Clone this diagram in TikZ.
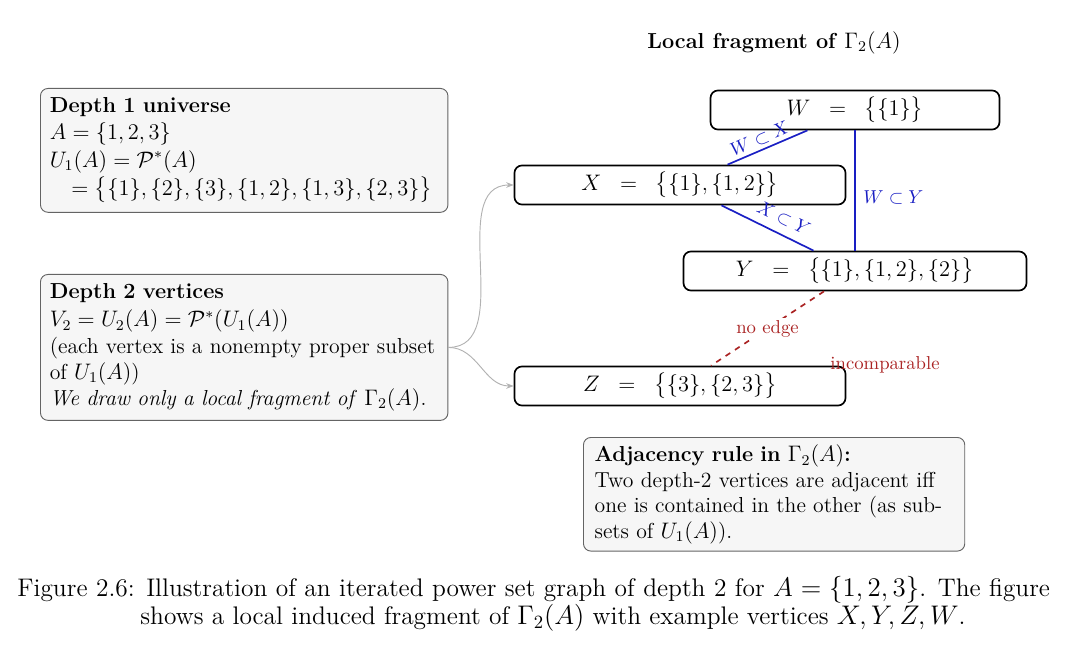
\documentclass[tikz,border=0pt]{standalone}
\usepackage{amsmath,amssymb}
\usetikzlibrary{arrows.meta}
\definecolor{edgeblue}{RGB}{25,30,195}
\definecolor{edgered}{RGB}{170,35,35}
\definecolor{boxfill}{RGB}{246,246,246}
\definecolor{boxline}{RGB}{100,100,100}
\begin{document}
\begin{tikzpicture}[x=0.535pt,y=-0.535pt,
  infobox/.style={draw=boxline, fill=boxfill, rounded corners=4pt, line width=0.5pt,
    inner sep=5pt, align=left, anchor=north west, font=\fontsize{11.6}{14}\selectfont},
  vtx/.style={draw=black, line width=0.9pt, rounded corners=4pt, fill=white,
    minimum height=20.9pt, inner sep=0pt, font=\fontsize{11.6}{13.6}\selectfont},
  incl/.style={draw=edgeblue, line width=0.9pt},
  incllab/.style={text=edgeblue, font=\fontsize{10}{12}\selectfont, inner sep=2pt},
  noedge/.style={draw=edgered, line width=0.9pt, dashed},
  redlab/.style={text=edgered, font=\fontsize{10}{12}\selectfont, inner sep=1pt},
  feed/.style={draw=gray!60, line width=0.5pt, -{Stealth[length=4pt,width=3pt]}},
  captxt/.style={font=\fontsize{13.6}{16}\selectfont, inner sep=0pt}
]
\useasboundingbox (0,0) rectangle (1080,666);

% title
\node[font=\fontsize{11.6}{13}\selectfont] (title) at (774,43) {\textbf{Local fragment of} $\Gamma_2(A)$};

% info boxes
\node[infobox, text width=208pt] (b1) at (40,88) {%
  \textbf{Depth 1 universe}\\
  $A=\{1,2,3\}$\\[1pt]
  $U_1(A)=\mathcal{P}^{*}(A)$\\[1pt]
  $\quad=\bigl\{\{1\},\{2\},\{3\},\{1,2\},\{1,3\},\{2,3\}\bigr\}$};

\node[infobox, text width=208pt] (b2) at (40,274) {%
  \textbf{Depth 2 vertices}\\[1pt]
  $V_2=U_2(A)=\mathcal{P}^{*}(U_1(A))$\\
  (each vertex is a nonempty proper subset\\
  of $U_1(A)$)\\
  \textit{We draw only a local fragment of} $\Gamma_2(A)$.};

\node[infobox, text width=192pt, inner xsep=6pt, inner ysep=4pt, font=\fontsize{11.6}{13.6}\selectfont] (b3) at (583,437) {%
  \textbf{Adjacency rule in} $\Gamma_2(A)$\textbf{:}\\
  Two depth-2 vertices are adjacent iff\\
  one is contained in the other (as sub-\\
  sets of $U_1(A)$).};

% vertices
\node[vtx, minimum width=154.6pt] (W) at (855,110) {$W\;\;=\;\;\bigl\{\{1\}\bigr\}$};
\node[vtx, minimum width=177.1pt] (X) at (680,185) {$X\;\;=\;\;\bigl\{\{1\},\{1,2\}\bigr\}$};
\node[vtx, minimum width=183.5pt] (Y) at (855,271) {$Y\;\;=\;\;\bigl\{\{1\},\{1,2\},\{2\}\bigr\}$};
\node[vtx, minimum width=177.1pt] (Z) at (680,386) {$Z\;\;=\;\;\bigl\{\{3\},\{2,3\}\bigr\}$};

% inclusion edges
\draw[incl] (X) -- node[incllab, sloped, above, pos=0.46] (lwx) {$W\subset X$} (W);
\draw[incl] (X) -- node[incllab, sloped, above=2.5pt, pos=0.6] (lxy) {$X\subset Y$} (Y);
\draw[incl] (W) -- node[incllab, right, inner xsep=4pt, pos=0.56] (lwy) {$W\subset Y$} (Y);

% non-edge
\draw[noedge] (Y) -- node[redlab, fill=white, pos=0.5] (lno) {no edge} (Z);
\node[redlab] (linc) at (885,365) {incomparable};

% feed arrows
\draw[feed] (b2.east) to[out=0,in=180] (X.west);
\draw[feed] (b2.east) to[out=0,in=180] (Z.west);

% caption
\node[captxt, anchor=base west] (cap1) at (17,596) {\makebox[552.5pt][s]{Figure 2.6: Illustration of an iterated power set graph of depth 2 for $A=\{1,2,3\}$. The figure}};
\node[captxt, anchor=base west] (cap2) at (140,624) {shows a local induced fragment of $\Gamma_2(A)$ with example vertices $X,Y,Z,W$.};
\end{tikzpicture}
\end{document}
